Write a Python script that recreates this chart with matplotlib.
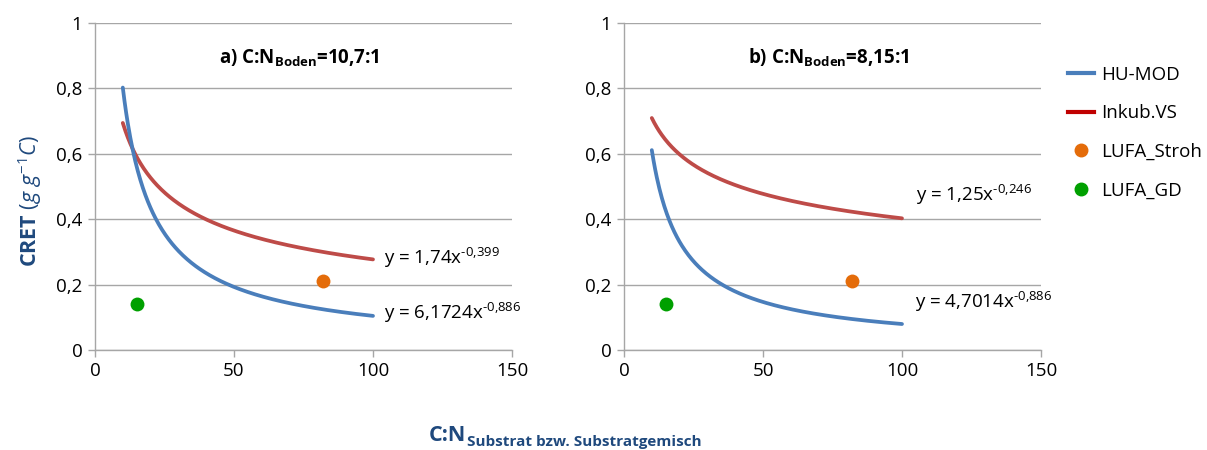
import numpy as np
import matplotlib
matplotlib.use("Agg")
import matplotlib.pyplot as plt
from matplotlib.lines import Line2D

plt.rcParams['font.family'] = ['Open Sans', 'DejaVu Sans']
plt.rcParams['mathtext.fontset'] = 'custom'
plt.rcParams['mathtext.rm'] = 'Open Sans'
plt.rcParams['mathtext.it'] = 'Open Sans:italic'
plt.rcParams['mathtext.bf'] = 'Open Sans:bold'

# Power-law fits y = a * x^b for each soil, x range of the fits
x_start, x_end = 10, 100
panel_titles = [r"a) C:N$_{\mathbf{Boden}}$=10,7:1", r"b) C:N$_{\mathbf{Boden}}$=8,15:1"]
hu_mod_a = [6.1724, 4.7014]
hu_mod_b = [-0.886, -0.886]
inkub_a = [1.74, 1.25]
inkub_b = [-0.399, -0.246]
hu_mod_labels = [r"y = 6,1724x$^{\text{-0,886}}$", r"y = 4,7014x$^{\text{-0,886}}$"]
inkub_labels = [r"y = 1,74x$^{\text{-0,399}}$", r"y = 1,25x$^{\text{-0,246}}$"]

# Measured points
lufa_stroh_x, lufa_stroh_y = [82], [0.21]
lufa_gd_x, lufa_gd_y = [15], [0.14]

x_ticks = [0, 50, 100, 150]
y_ticks = [0, 0.2, 0.4, 0.6, 0.8, 1.0]
y_tick_labels = ["0", "0,2", "0,4", "0,6", "0,8", "1"]

c_blue = "#4A7EBB"
c_red = "#BE4B48"
c_red_leg = "#C00000"
c_orange = "#E46C0A"
c_green = "#00A000"
c_grid = "#A6A6A6"
c_title = "#1F497D"

fs = 13.5

fig = plt.figure(figsize=(12.07, 4.5), dpi=100)
lefts = [95 / 1207, 624 / 1207]
w = 417 / 1207
bottom = 100 / 450
h = 327 / 450

# label positions in data coords: (hu x, hu y), (inkub x, inkub y)
hu_pos = [(104, 0.113), (104.5, 0.147)]
ink_pos = [(104, 0.28), (105, 0.475)]

xs = np.linspace(x_start, x_end, 300)
for i in range(2):
    ax = fig.add_axes([lefts[i], bottom, w, h])
    ax.set_xlim(0, 150)
    ax.set_ylim(0, 1)
    ax.set_xticks(x_ticks)
    ax.set_yticks(y_ticks)
    ax.set_yticklabels(y_tick_labels)
    ax.tick_params(labelsize=fs, colors="#000000", length=5, width=1, color=c_grid, pad=4)
    ax.grid(axis='y', color=c_grid, linewidth=1)
    ax.set_axisbelow(True)
    for s in ['top', 'right']:
        ax.spines[s].set_visible(False)
    for s in ['left', 'bottom']:
        ax.spines[s].set_color(c_grid)
        ax.spines[s].set_linewidth(1)

    ax.plot(xs, inkub_a[i] * xs ** inkub_b[i], color=c_red, lw=2.7, solid_capstyle='round')
    ax.plot(xs, hu_mod_a[i] * xs ** hu_mod_b[i], color=c_blue, lw=2.7, solid_capstyle='round')
    ax.scatter(lufa_stroh_x, lufa_stroh_y, s=100, color=c_orange, zorder=5, linewidths=0)
    ax.scatter(lufa_gd_x, lufa_gd_y, s=100, color=c_green, zorder=5, linewidths=0)

    ax.text(ink_pos[i][0], ink_pos[i][1], inkub_labels[i], fontsize=fs, va='center', ha='left')
    ax.text(hu_pos[i][0], hu_pos[i][1], hu_mod_labels[i], fontsize=fs, va='center', ha='left')
    ax.text(73.5, 0.895, panel_titles[i], fontsize=fs, fontweight='bold', ha='center', va='center')

    if i == 0:
        ax.set_ylabel(r"$\mathbf{CRET}$ $\mathit{(g\ g^{-1}C)}$", fontsize=15.5,
                      color=c_title)
        ax.yaxis.set_label_coords(-0.122, 0.455)

# Shared x-axis title: "C:N" with a bold subscript placed right after it
renderer = fig.canvas.get_renderer()
base_y = 1 - 441 / 450
main = fig.text(0, base_y, "C:N", fontsize=15.5, fontweight='bold', color=c_title,
                ha='left', va='baseline')
sub = fig.text(0, base_y, "Substrat bzw. Substratgemisch", fontsize=11, fontweight='bold',
               color=c_title, ha='left', va='baseline')
wm = main.get_window_extent(renderer).width / fig.bbox.width
ws = sub.get_window_extent(renderer).width / fig.bbox.width
x0 = 565 / 1207 - (wm + ws) / 2
main.set_x(x0)
sub.set_position((x0 + wm + 1 / 1207, base_y - 5 / 450))

handles = [
    Line2D([], [], color=c_blue, lw=3),
    Line2D([], [], color=c_red_leg, lw=3),
    Line2D([], [], color=c_orange, marker='o', ls='none', markersize=9),
    Line2D([], [], color=c_green, marker='o', ls='none', markersize=9),
]
labels = ["HU-MOD", "Inkub.VS", "LUFA_Stroh", "LUFA_GD"]
fig.legend(handles, labels, loc='upper left', bbox_to_anchor=(1060 / 1207, 1 - 58 / 450),
           frameon=False, fontsize=fs, handlelength=1.4, handletextpad=0.4, labelspacing=1.1,
           borderaxespad=0)

fig.savefig("out.png", dpi=100)
